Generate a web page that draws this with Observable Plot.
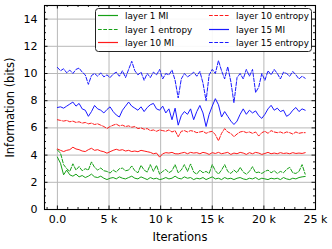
<!DOCTYPE html>
<html>
<head>
<meta charset="utf-8">
<script src="https://cdn.jsdelivr.net/npm/d3@7"></script>
<script src="https://cdn.jsdelivr.net/npm/@observablehq/plot@0.6"></script>
<style>
  html, body { margin: 0; padding: 0; background: white; }
</style>
</head>
<body>
<div id="chart"></div>
<script>
const iterations = [0,300,600,900,1200,1500,1800,2100,2400,2700,3000,3300,3600,3900,4200,4500,4800,5100,5400,5700,6000,6300,6600,6900,7200,7500,7800,8100,8400,8700,9000,9300,9600,9900,10200,10500,10800,11100,11400,11700,12000,12300,12600,12900,13200,13500,13800,14100,14400,14700,15000,15300,15600,15900,16200,16500,16800,17100,17400,17700,18000,18300,18600,18900,19200,19500,19800,20100,20400,20700,21000,21300,21600,21900,22200,22500,22800,23100,23400,23700,24000];

const layer1MI = [3.85,3.4,2.55,2.9,2.55,2.45,2.6,2.4,2.5,2.35,2.45,2.6,2.4,2.35,2.45,2.3,2.2,2.3,2.35,2.25,2.4,2.3,2.25,2.35,2.45,2.3,2.25,2.4,2.3,2.2,2.35,2.25,2.3,2.2,2.25,2.35,2.25,2.3,2.45,2.3,2.25,2.4,2.3,2.35,2.2,2.3,2.25,2.35,2.2,2.3,2.4,2.25,2.3,2.2,2.35,2.25,2.3,2.2,2.3,2.35,2.25,2.2,2.3,2.25,2.35,2.2,2.3,2.25,2.2,2.3,2.25,2.3,2.2,2.35,2.25,2.2,2.3,2.25,2.35,2.4,2.43];

const layer1Entropy = [4.38,4.14,3.3,3.0,2.8,3.36,2.9,3.16,2.85,3.0,2.9,3.5,3.1,2.9,3.05,2.85,2.8,2.68,2.9,2.75,3.0,3.04,2.85,2.9,3.2,2.85,2.7,3.25,2.9,2.75,3.3,2.8,3.25,2.6,2.8,2.95,2.7,2.85,3.3,2.7,2.9,3.3,2.8,3.35,2.75,2.6,2.9,2.7,2.8,2.65,3.3,2.85,2.6,2.9,3.3,2.8,2.65,2.9,2.7,3.1,2.75,2.6,2.8,3.15,2.7,2.75,2.65,2.8,2.9,2.7,2.85,2.65,2.8,2.7,2.95,3.1,2.7,2.65,2.8,3.3,2.6];

const layer10MI = [4.45,4.35,4.26,4.35,4.4,4.58,4.45,4.4,4.3,4.26,4.4,4.5,4.35,4.4,4.3,4.25,4.14,4.25,4.35,4.43,4.35,4.4,4.3,4.35,4.26,4.3,4.25,4.35,4.3,4.25,4.2,4.1,4.15,3.85,4.1,4.18,4.15,4.2,4.1,4.09,4.15,4.2,4.1,4.2,4.15,4.18,4.1,4.2,4.15,4.05,4.18,4.12,4.2,4.1,4.15,4.2,4.05,4.15,4.1,4.2,4.15,4.05,4.18,4.1,4.2,4.15,4.05,4.12,4.2,4.1,4.15,4.1,4.18,4.12,4.15,4.1,4.18,4.12,4.15,4.12,4.18];

const layer10Entropy = [6.6,6.55,6.5,6.55,6.45,6.5,6.4,6.45,6.35,6.4,6.3,6.35,6.25,6.3,6.2,6.1,5.95,6.1,6.2,6.28,6.15,6.2,6.1,6.15,6.05,6.1,5.95,6.0,5.9,5.95,5.8,5.85,5.75,5.85,5.8,5.75,5.85,5.7,5.8,5.35,5.75,5.8,5.7,5.8,5.75,5.65,5.7,5.75,5.6,5.7,5.75,5.5,5.05,5.6,5.95,5.7,5.6,5.35,5.55,5.7,5.75,5.65,5.7,5.6,5.7,5.4,5.65,5.75,5.6,5.8,5.7,5.65,5.7,5.6,5.7,5.65,5.55,5.7,5.6,5.65,5.65];

const layer15MI = [7.5,7.55,7.45,7.6,7.75,7.9,7.6,7.8,7.4,7.3,6.85,7.2,7.65,7.4,7.3,7.1,7.35,7.55,7.2,6.95,6.8,7.3,7.6,7.9,7.6,7.45,7.3,7.55,7.2,7.5,7.7,7.8,7.4,7.3,7.6,7.1,7.4,6.6,7.45,6.2,6.9,7.2,7.0,7.4,6.6,7.2,7.65,7.1,6.1,7.0,7.6,8.15,7.7,6.8,7.2,6.85,6.5,6.25,6.5,7.0,7.4,7.0,7.3,7.1,7.25,6.9,6.7,7.0,7.4,7.66,7.3,7.45,7.2,7.3,6.85,7.0,7.3,7.5,7.2,7.4,7.3];

const layer15Entropy = [10.45,10.2,10.35,10.05,10.25,10.0,10.3,10.4,10.1,9.9,9.2,9.85,10.0,9.8,10.05,9.75,9.9,9.7,9.95,10.1,9.8,10.2,9.7,10.3,10.9,10.2,9.9,10.1,9.5,10.0,9.7,10.1,9.9,10.3,9.6,10.0,9.9,10.25,9.5,8.2,9.6,10.0,9.75,9.9,10.1,9.8,10.15,9.3,8.0,9.9,10.3,10.0,10.95,10.2,9.6,10.5,9.4,7.85,9.7,10.0,9.6,10.3,9.8,10.3,8.6,9.0,10.0,9.5,10.2,9.9,10.3,10.0,9.6,10.1,10.0,9.8,10.15,9.9,9.6,9.8,9.65];

const seriesNames = ["layer 1 MI","layer 1 entropy","layer 10 MI","layer 10 entropy","layer 15 MI","layer 15 entropy"];
const seriesValues = [layer1MI, layer1Entropy, layer10MI, layer10Entropy, layer15MI, layer15Entropy];
const seriesColors = ["#16a016","#16a016","#ff1a1a","#ff1a1a","#1a1aff","#1a1aff"];
const seriesDashed = [false,true,false,true,false,true];

const xTicks = [0,5000,10000,15000,20000,25000];
const xTickLabels = ["0.0","5 k","10 k","15 k","20 k","25 k"];
const yTicks = [0,2,4,6,8,10,12,14];
const yTickLabels = ["0","2","4","6","8","10","12","14"];
const xLabel = "Iterations";
const yLabel = "Information (bits)";

const W = 332, H = 249;
const mL = 44, mR = 17, mT = 5, mB = 40;
const plotH = H - mT - mB;
const plotW = W - mL - mR;

const xMinor = d3.range(-1000, 25001, 1000).filter(v => v % 5000 !== 0);
const yMinor = d3.range(0.5, 15, 0.5).filter(v => v % 2 !== 0);

const rows = [];
seriesNames.forEach((name, s) => {
  iterations.forEach((it, i) => rows.push({series: name, s, x: it, y: seriesValues[s][i]}));
});

const lineMarks = seriesNames.map((name, s) =>
  Plot.line(rows.filter(r => r.s === s), {
    x: "x", y: "y",
    stroke: seriesColors[s],
    strokeWidth: 1,
    strokeDasharray: seriesDashed[s] ? "3.7,1.6" : null,
    curve: "linear"
  })
);

const tickStyle = {stroke: "black", strokeWidth: 0.9};

const chart = Plot.plot({
  width: W, height: H,
  marginLeft: mL, marginRight: mR, marginTop: mT, marginBottom: mB,
  x: {domain: [-1250, 25000]},
  y: {domain: [0, 15]},
  style: {fontFamily: "DejaVu Sans", fontSize: "11px", color: "black", background: "white", overflow: "visible"},
  marks: [
    Plot.gridX(xTicks, {stroke: "#b8b8b8", strokeOpacity: 1, strokeWidth: 1}),
    Plot.gridY(yTicks, {stroke: "#b8b8b8", strokeOpacity: 1, strokeWidth: 1}),
    ...lineMarks,
    Plot.tickX(xTicks, {x: d => d, insetTop: plotH - 3.5, ...tickStyle}),
    Plot.tickX(xTicks, {x: d => d, insetBottom: plotH - 3.5, ...tickStyle}),
    Plot.tickX(xMinor, {x: d => d, insetTop: plotH - 2, ...tickStyle}),
    Plot.tickX(xMinor, {x: d => d, insetBottom: plotH - 2, ...tickStyle}),
    Plot.tickY(yTicks, {y: d => d, insetRight: plotW - 3.5, ...tickStyle}),
    Plot.tickY(yTicks, {y: d => d, insetLeft: plotW - 3.5, ...tickStyle}),
    Plot.tickY(yMinor, {y: d => d, insetRight: plotW - 2, ...tickStyle}),
    Plot.tickY(yMinor, {y: d => d, insetLeft: plotW - 2, ...tickStyle}),
    Plot.frame({stroke: "black", strokeWidth: 1.1}),
    Plot.axisX(xTicks, {tickSize: 0, tickPadding: 6, label: null, fontSize: 11, tickFormat: d => xTickLabels[xTicks.indexOf(d)]}),
    Plot.axisY(yTicks, {tickSize: 0, tickPadding: 7, label: null, fontSize: 11, tickFormat: d => yTickLabels[yTicks.indexOf(d)]}),
    Plot.text([xLabel], {text: d => d, frameAnchor: "bottom", dy: 28, lineAnchor: "middle", textAnchor: "middle", fontSize: 11.5, fill: "black"}),
    Plot.text([yLabel], {text: d => d, frameAnchor: "left", dx: -34, rotate: -90, textAnchor: "middle", lineAnchor: "middle", fontSize: 11.5, fill: "black"})
  ]
});

// legend inside the plot (upper right), two columns
const svg = d3.select(chart);
const lg = svg.append("g").attr("font-family", "DejaVu Sans").attr("font-size", 8.8).attr("text-anchor", "start");
lg.append("rect")
  .attr("x", 95.5).attr("y", 8.5).attr("width", 216).attr("height", 43)
  .attr("rx", 3).attr("fill", "white").attr("fill-opacity", 0.9)
  .attr("stroke", "#222").attr("stroke-width", 1);
const colX = [98, 209];
const rowY = [15.5, 29.5, 42.5];
seriesNames.forEach((name, s) => {
  const c = Math.floor(s / 3), r = s % 3;
  const x0 = colX[c], y0 = rowY[r];
  lg.append("line")
    .attr("x1", x0).attr("x2", x0 + 20).attr("y1", y0).attr("y2", y0)
    .attr("stroke", seriesColors[s]).attr("stroke-width", 1.2)
    .attr("stroke-dasharray", seriesDashed[s] ? "3.7,1.6" : null);
  lg.append("text")
    .attr("x", x0 + 27).attr("y", y0).attr("dy", "0.35em")
    .attr("text-anchor", "start")
    .attr("fill", "black").text(name);
});

document.getElementById("chart").appendChild(chart);
</script>
</body>
</html>
